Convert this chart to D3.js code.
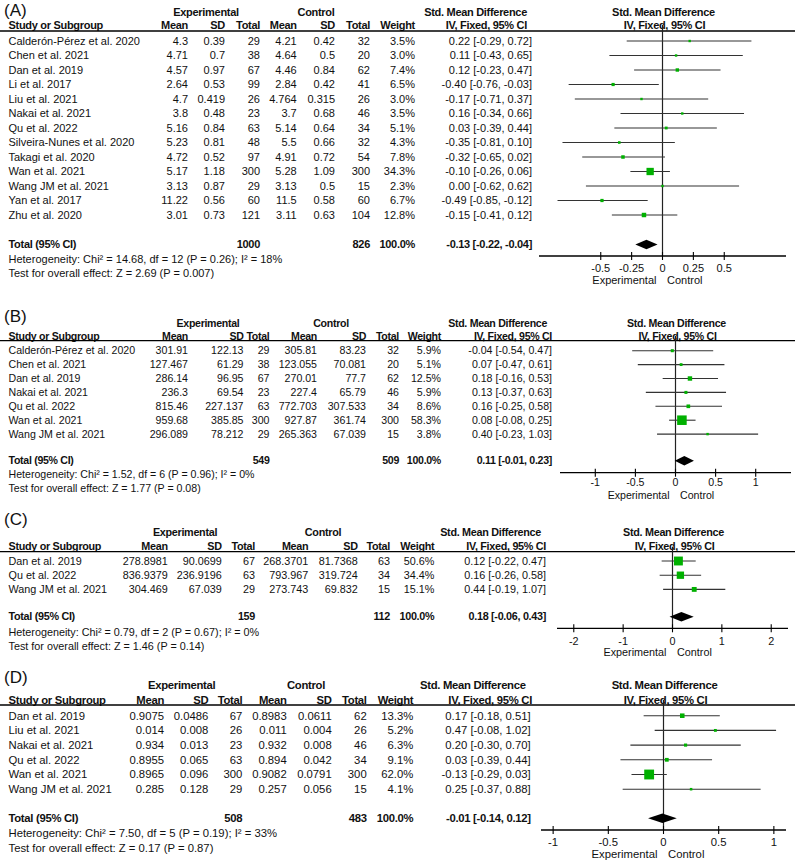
<!DOCTYPE html>
<html>
<head>
<meta charset="utf-8">
<script src="https://cdn.jsdelivr.net/npm/d3@7"></script>
<style>
  html, body { margin: 0; padding: 0; background: #fff; }
  svg { display: block; }
</style>
</head>
<body>
<svg id="chart" width="800" height="863"></svg>
<script>
// ---------------- DATA ----------------
// row: [study, expMean, expSD, expTotal, ctlMean, ctlSD, ctlTotal, weight%, SMD, lower, upper]
const rowsA = [
  ["Calderón-Pérez et al. 2020", 4.3, 0.39, 29, 4.21, 0.42, 32, 3.5, 0.22, -0.29, 0.72],
  ["Chen et al. 2021", 4.71, 0.7, 38, 4.64, 0.5, 20, 3.0, 0.11, -0.43, 0.65],
  ["Dan et al. 2019", 4.57, 0.97, 67, 4.46, 0.84, 62, 7.4, 0.12, -0.23, 0.47],
  ["Li et al. 2017", 2.64, 0.53, 99, 2.84, 0.42, 41, 6.5, -0.40, -0.76, -0.03],
  ["Liu et al. 2021", 4.7, 0.419, 26, 4.764, 0.315, 26, 3.0, -0.17, -0.71, 0.37],
  ["Nakai et al. 2021", 3.8, 0.48, 23, 3.7, 0.68, 46, 3.5, 0.16, -0.34, 0.66],
  ["Qu et al. 2022", 5.16, 0.84, 63, 5.14, 0.64, 34, 5.1, 0.03, -0.39, 0.44],
  ["Silveira-Nunes et al. 2020", 5.23, 0.81, 48, 5.5, 0.66, 32, 4.3, -0.35, -0.81, 0.10],
  ["Takagi et al. 2020", 4.72, 0.52, 97, 4.91, 0.72, 54, 7.8, -0.32, -0.65, 0.02],
  ["Wan et al.  2021", 5.17, 1.18, 300, 5.28, 1.09, 300, 34.3, -0.10, -0.26, 0.06],
  ["Wang JM et al. 2021", 3.13, 0.87, 29, 3.13, 0.5, 15, 2.3, 0.00, -0.62, 0.62],
  ["Yan et al. 2017", 11.22, 0.56, 60, 11.5, 0.58, 60, 6.7, -0.49, -0.85, -0.12],
  ["Zhu et al. 2020", 3.01, 0.73, 121, 3.11, 0.63, 104, 12.8, -0.15, -0.41, 0.12]
];
const rowsB = [
  ["Calderón-Pérez et al. 2020", 301.91, 122.13, 29, 305.81, 83.23, 32, 5.9, -0.04, -0.54, 0.47],
  ["Chen et al. 2021", 127.467, 61.29, 38, 123.055, 70.081, 20, 5.1, 0.07, -0.47, 0.61],
  ["Dan et al. 2019", 286.14, 96.95, 67, 270.01, 77.7, 62, 12.5, 0.18, -0.16, 0.53],
  ["Nakai et al. 2021", 236.3, 69.54, 23, 227.4, 65.79, 46, 5.9, 0.13, -0.37, 0.63],
  ["Qu et al. 2022", 815.46, 227.137, 63, 772.703, 307.533, 34, 8.6, 0.16, -0.25, 0.58],
  ["Wan et al.  2021", 959.68, 385.85, 300, 927.87, 361.74, 300, 58.3, 0.08, -0.08, 0.25],
  ["Wang JM et al. 2021", 296.089, 78.212, 29, 265.363, 67.039, 15, 3.8, 0.40, -0.23, 1.03]
];
const rowsC = [
  ["Dan et al. 2019", 278.8981, 90.0699, 67, 268.3701, 81.7368, 63, 50.6, 0.12, -0.22, 0.47],
  ["Qu et al. 2022", 836.9379, 236.9196, 63, 793.967, 319.724, 34, 34.4, 0.16, -0.26, 0.58],
  ["Wang JM et al. 2021", 304.469, 67.039, 29, 273.743, 69.832, 15, 15.1, 0.44, -0.19, 1.07]
];
const rowsD = [
  ["Dan et al. 2019", 0.9075, 0.0486, 67, 0.8983, 0.0611, 62, 13.3, 0.17, -0.18, 0.51],
  ["Liu et al. 2021", 0.014, 0.008, 26, 0.011, 0.004, 26, 5.2, 0.47, -0.08, 1.02],
  ["Nakai et al. 2021", 0.934, 0.013, 23, 0.932, 0.008, 46, 6.3, 0.20, -0.30, 0.70],
  ["Qu et al. 2022", 0.8955, 0.065, 63, 0.894, 0.042, 34, 9.1, 0.03, -0.39, 0.44],
  ["Wan et al.  2021", 0.8965, 0.096, 300, 0.9082, 0.0791, 300, 62.0, -0.13, -0.29, 0.03],
  ["Wang JM et al. 2021", 0.285, 0.128, 29, 0.257, 0.056, 15, 4.1, 0.25, -0.37, 0.88]
];
// totals: [expTotal, ctlTotal, weight, SMD, lower, upper]
const totalA = [1000, 826, 100.0, -0.13, -0.22, -0.04];
const totalB = [549, 509, 100.0, 0.11, -0.01, 0.23];
const totalC = [159, 112, 100.0, 0.18, -0.06, 0.43];
const totalD = [508, 483, 100.0, -0.01, -0.14, 0.12];
const hetA = "Heterogeneity: Chi² = 14.68, df = 12 (P = 0.26); I² = 18%";
const hetB = "Heterogeneity: Chi² = 1.52, df = 6 (P = 0.96); I² = 0%";
const hetC = "Heterogeneity: Chi² = 0.79, df = 2 (P = 0.67); I² = 0%";
const hetD = "Heterogeneity: Chi² = 7.50, df = 5 (P = 0.19); I² = 33%";
const testA = "Test for overall effect: Z = 2.69 (P = 0.007)";
const testB = "Test for overall effect: Z = 1.77 (P = 0.08)";
const testC = "Test for overall effect: Z = 1.46 (P = 0.14)";
const testD = "Test for overall effect: Z = 0.17 (P = 0.87)";
const ticksA = [-0.5, -0.25, 0, 0.25, 0.5];
const ticksB = [-1, -0.5, 0, 0.5, 1];
const ticksC = [-2, -1, 0, 1, 2];
const ticksD = [-1, -0.5, 0, 0.5, 1];
const labels = ["(A)", "(B)", "(C)", "(D)"];

// ---------------- LAYOUT ----------------
const layouts = [
  {fs: 11, label: 15.5, h1: 11.7, h2: 25, rule: 31, row0: 41, step: 14.5, total: 244.5, het: 259, test: 273.5,
   axisY: 256, tickY: 266.7, sideY: 280.5, cols: [188, 225, 260, 296.7, 335, 370, 415],
   ciRight: 532, ivRight: 527, expC: 206, ctlC: 316, range: [539, 786], m: 1},
  {fs: 10.6, label: 321.7, h1: 323, h2: 336, rule: 340.7, row0: 350.7, step: 13.9, total: 460.7, het: 474, test: 488.3,
   axisY: 472.7, tickY: 481.7, sideY: 495, cols: [188, 243.5, 269.5, 317, 366, 399, 441],
   ciRight: 552, ivRight: 552, expC: 208, ctlC: 331, range: [560, 791], m: 1.44},
  {fs: 10.8, label: 525, h1: 532.7, h2: 546.7, rule: 551.7, row0: 561, step: 14.2, total: 616.7, het: 632.7, test: 646,
   axisY: 628.3, tickY: 640, sideY: 652.7, cols: [167.7, 221.7, 255, 308.3, 357.7, 390, 434.3],
   ciRight: 546, ivRight: 546, expC: 185, ctlC: 323, range: [557, 788], m: 2.34},
  {fs: 11.3, label: 683, h1: 685, h2: 700, rule: 705, row0: 715.7, step: 14.7, total: 818.3, het: 833.3, test: 848.3,
   axisY: 830, tickY: 840.7, sideY: 854, cols: [164, 208.3, 242.3, 286.7, 331.7, 366.7, 413.3],
   ciRight: 530.7, ivRight: 532, expC: 181.7, ctlC: 306, range: [541, 786], m: 1.11}
];

const panels = [
  {rows: rowsA, total: totalA, het: hetA, test: testA, ticks: ticksA},
  {rows: rowsB, total: totalB, het: hetB, test: testB, ticks: ticksB},
  {rows: rowsC, total: totalC, het: hetC, test: testC, ticks: ticksC},
  {rows: rowsD, total: totalD, het: hetD, test: testD, ticks: ticksD}
];

const FONT = "'Liberation Sans', Arial, sans-serif";
const TXT = "#111";
const GREEN = "#00b000";
const svg = d3.select("#chart").style("font-family", FONT);

const f2 = v => v.toFixed(2);
const ciText = (e, l, u) => `${f2(e)} [${f2(l)}, ${f2(u)}]`;

function txt(g, x, y, s, opts = {}) {
  const t = g.append("text")
    .attr("x", x).attr("y", y).attr("dy", opts.baseline ? null : "0.35em")
    .attr("text-anchor", opts.anchor || "start")
    .attr("font-size", opts.size || 11)
    .attr("font-weight", opts.bold ? "bold" : "normal")
    .attr("fill", TXT)
    .text(s);
  if (opts.ls) t.attr("letter-spacing", opts.ls);
  return t;
}

panels.forEach((p, pi) => {
  const L = layouts[pi];
  const fs = L.fs;
  const g = svg.append("g");
  const x = d3.scaleLinear().domain([-L.m, L.m]).range(L.range);
  const H = {bold: true, size: fs, ls: -0.3};

  // panel label
  txt(g, 4, L.label, labels[pi], {size: 17, baseline: true});

  // group headers
  txt(g, L.expC, L.h1, "Experimental", {...H, anchor: "middle"});
  txt(g, L.ctlC, L.h1, "Control", {...H, anchor: "middle"});
  txt(g, L.ciRight - 5, L.h1, "Std. Mean Difference", {...H, anchor: "end"});
  txt(g, x(0) + 1, L.h1, "Std. Mean Difference", {...H, anchor: "middle"});

  // column headers
  txt(g, 8.5, L.h2, "Study or Subgroup", H);
  ["Mean", "SD", "Total", "Mean", "SD", "Total", "Weight"].forEach((h, i) =>
    txt(g, L.cols[i], L.h2, h, {...H, anchor: "end"}));
  txt(g, L.ivRight, L.h2, "IV, Fixed, 95% CI", {...H, anchor: "end"});
  txt(g, x(0) + 2, L.h2, "IV, Fixed, 95% CI", {...H, anchor: "middle"});

  // rule
  g.append("line").attr("x1", 0).attr("x2", 795).attr("y1", L.rule).attr("y2", L.rule)
    .attr("stroke", "#000").attr("stroke-width", 1.3);

  // zero line
  g.append("line").attr("x1", x(0)).attr("x2", x(0)).attr("y1", L.h2).attr("y2", L.axisY)
    .attr("stroke", "#222").attr("stroke-width", 1.2);

  // study rows
  p.rows.forEach((r, i) => {
    const y = L.row0 + i * L.step;
    txt(g, 8.5, y, r[0], {size: fs});
    for (let c = 1; c <= 6; c++) txt(g, L.cols[c - 1], y, String(r[c]), {anchor: "end", size: fs});
    txt(g, L.cols[6], y, r[7].toFixed(1) + "%", {anchor: "end", size: fs});
    txt(g, L.ciRight, y, ciText(r[8], r[9], r[10]), {anchor: "end", size: fs});
    // CI line
    g.append("line").attr("x1", x(r[9])).attr("x2", x(r[10])).attr("y1", y).attr("y2", y)
      .attr("stroke", "#333").attr("stroke-width", 1.1);
    const s = Math.max(2.4, 1.25 * Math.sqrt(r[7]));
    g.append("rect").attr("x", x(r[8]) - s / 2).attr("y", y - s / 2)
      .attr("width", s).attr("height", s).attr("fill", GREEN);
  });

  // total row
  const t = p.total;
  txt(g, 8.5, L.total, "Total (95% CI)", H);
  txt(g, L.cols[2], L.total, String(t[0]), {...H, anchor: "end"});
  txt(g, L.cols[5], L.total, String(t[1]), {...H, anchor: "end"});
  txt(g, L.cols[6], L.total, t[2].toFixed(1) + "%", {...H, anchor: "end"});
  txt(g, L.ciRight, L.total, ciText(t[3], t[4], t[5]), {...H, anchor: "end"});
  const dh = 4.8;
  g.append("path")
    .attr("d", `M${x(t[4])},${L.total} L${x(t[3])},${L.total - dh} L${x(t[5])},${L.total} L${x(t[3])},${L.total + dh} Z`)
    .attr("fill", "#000");

  // heterogeneity / test
  txt(g, 8.5, L.het, p.het, {size: fs});
  txt(g, 8.5, L.test, p.test, {size: fs});

  // axis
  g.append("line").attr("x1", L.range[0]).attr("x2", L.range[1]).attr("y1", L.axisY).attr("y2", L.axisY)
    .attr("stroke", "#000").attr("stroke-width", 1.3);
  p.ticks.forEach(tv => {
    g.append("line").attr("x1", x(tv)).attr("x2", x(tv)).attr("y1", L.axisY - 4).attr("y2", L.axisY + 4)
      .attr("stroke", "#000").attr("stroke-width", 1.1);
    txt(g, x(tv), L.tickY + 1, String(tv), {anchor: "middle", size: fs});
  });
  txt(g, x(0) - 6, L.sideY, "Experimental", {anchor: "end", size: fs});
  txt(g, x(0) + 4.5, L.sideY, "Control", {size: fs});
});
</script>
</body>
</html>
